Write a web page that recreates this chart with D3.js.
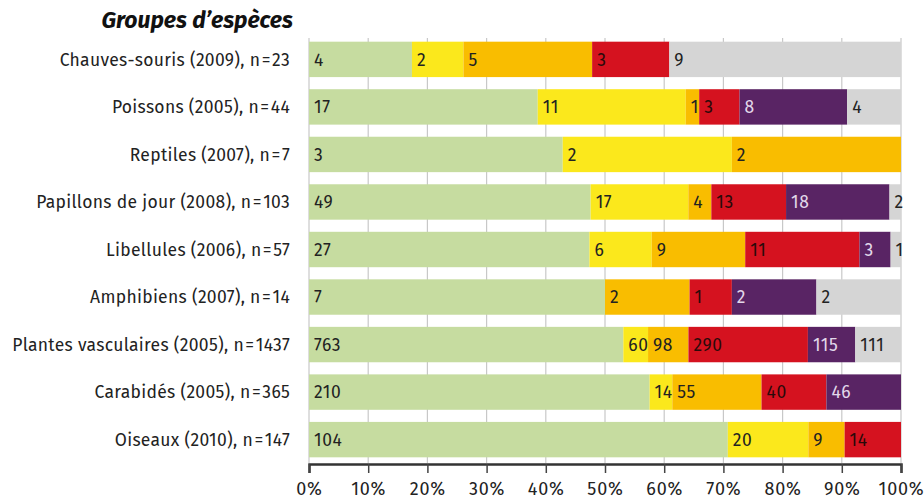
<!DOCTYPE html>
<html>
<head>
<meta charset="utf-8">
<script src="https://cdn.jsdelivr.net/npm/d3@7"></script>
<style>
  html, body { margin: 0; padding: 0; background: #fff; }
  svg { display: block; }
</style>
</head>
<body>
<svg id="chart" width="924" height="499"></svg>
<script>
// Species groups with survey year and number of species
const categories = [
  "Chauves-souris (2009), n=23",
  "Poissons (2005), n=44",
  "Reptiles (2007), n=7",
  "Papillons de jour (2008), n=103",
  "Libellules (2006), n=57",
  "Amphibiens (2007), n=14",
  "Plantes vasculaires (2005), n=1437",
  "Carabidés (2005), n=365",
  "Oiseaux (2010), n=147"
];

// Species counts per status class, one array per class (same order as categories)
const seriesNames = ["c1", "c2", "c3", "c4", "c5", "c6"];
const greenValues  = [4, 17, 3, 49, 27, 7, 763, 210, 104];
const yellowValues = [2, 11, 2, 17, 6, 0, 60, 14, 20];
const orangeValues = [5, 1, 2, 4, 9, 2, 98, 55, 9];
const redValues    = [3, 3, 0, 13, 11, 1, 290, 40, 14];
const purpleValues = [0, 8, 0, 18, 3, 2, 115, 46, 0];
const greyValues   = [9, 4, 0, 2, 1, 2, 111, 0, 0];

const tickValues = [0, 10, 20, 30, 40, 50, 60, 70, 80, 90, 100];
const tickLabels = tickValues.map(v => v + "%");

const colors = ["#c6dca0", "#fbe81c", "#f9bd00", "#d5121f", "#592464", "#d5d5d5"];
const labelColors = ["#222", "#222", "#222", "#2a0a0a", "#e2d8ea", "#222"];

const allSeries = [greenValues, yellowValues, orangeValues, redValues, purpleValues, greyValues];

const rows = categories.map((name, i) => {
  const row = { name };
  seriesNames.forEach((s, k) => { row[s] = allSeries[k][i]; });
  row.total = d3.sum(allSeries, arr => arr[i]);
  return row;
});

const stacked = d3.stack()
  .keys(seriesNames)
  .value((d, key) => d[key] / d.total * 100)(rows);

const svg = d3.select("#chart");
const font = "'Fira Sans', 'Open Sans', 'Noto Sans', sans-serif";

const x = d3.scaleLinear().domain([0, 100]).range([309, 901]);
const y = d3.scaleBand().domain(categories).range([35.5, 463.5]).paddingInner(0.255).paddingOuter(0.13);

// Vertical gridlines
svg.append("g")
  .selectAll("line")
  .data(tickValues)
  .join("line")
  .attr("x1", d => x(d)).attr("x2", d => x(d))
  .attr("y1", 38).attr("y2", 463)
  .attr("stroke", "#c8c8c8")
  .attr("stroke-width", 1.2);

// Title
svg.append("text")
  .attr("x", 293).attr("y", 28)
  .attr("text-anchor", "end")
  .attr("font-family", font)
  .attr("font-size", 23)
  .attr("font-weight", "bold")
  .attr("font-style", "italic")
  .attr("fill", "#111")
  .text("Groupes d\u2019espèces");

// Bar segments
const layers = svg.append("g").selectAll("g")
  .data(stacked)
  .join("g")
  .attr("fill", (d, i) => colors[i]);

layers.selectAll("rect")
  .data(d => d.map(p => ({ p, key: d.key, cat: p.data.name })))
  .join("rect")
  .attr("x", d => x(d.p[0]))
  .attr("y", d => y(d.cat))
  .attr("width", d => Math.max(0, x(d.p[1]) - x(d.p[0])))
  .attr("height", y.bandwidth());

// Segment value labels
stacked.forEach((layer, k) => {
  svg.append("g").selectAll("text")
    .data(layer.filter(p => p.data[layer.key] > 0))
    .join("text")
    .attr("x", p => x(p[0]) + 5)
    .attr("y", p => y(p.data.name) + y.bandwidth() / 2)
    .attr("dy", "0.36em")
    .attr("font-family", font)
    .attr("font-size", 17.5)
    .attr("letter-spacing", 0.6)
    .attr("fill", labelColors[k])
    .text(p => p.data[layer.key]);
});

// Category labels
svg.append("g").selectAll("text")
  .data(categories)
  .join("text")
  .attr("x", 290)
  .attr("y", d => y(d) + y.bandwidth() / 2)
  .attr("dy", "0.36em")
  .attr("text-anchor", "end")
  .attr("font-family", font)
  .attr("font-size", 17.5)
  .attr("letter-spacing", 0.3)
  .attr("fill", "#222")
  .text(d => d.replace("n=", "n\u200a=\u200a"));

// Bottom axis
const axis = svg.append("g")
  .attr("transform", "translate(0,464)")
  .call(d3.axisBottom(x).tickValues(tickValues).tickFormat((d, i) => tickLabels[i]).tickSize(9).tickPadding(9));
axis.select(".domain").attr("stroke", "#333").attr("stroke-width", 2.5);
axis.selectAll(".tick line").attr("stroke", "#444").attr("stroke-width", 1.5);
axis.selectAll(".tick text")
  .attr("font-family", font)
  .attr("font-size", 18)
  .attr("letter-spacing", 0.8)
  .attr("fill", "#222");
</script>
</body>
</html>
